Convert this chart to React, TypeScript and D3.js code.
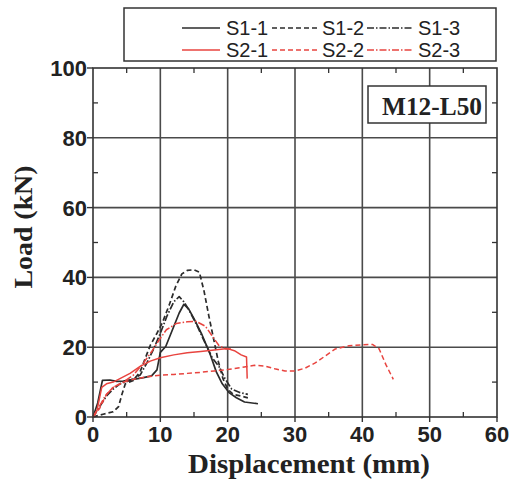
import React from "react";
import * as d3 from "d3";

type P = [number, number];

const xMajor = [0, 10, 20, 30, 40, 50, 60];
const xMinor = [5, 15, 25, 35, 45, 55];
const yMajor = [0, 20, 40, 60, 80, 100];
const yMinor = [10, 30, 50, 70, 90];

const s11: P[] = [[0,0],[0.7,4],[1.4,10.5],[2.5,10.6],[3.5,10.2],[4.5,10.3],[6,10.8],[7.5,11.3],[8.7,11.8],[9.5,13.5],[10,18.5],[10.8,20.2],[11.8,25],[12.8,29.8],[13.5,32.3],[14.2,31],[15,28.2],[16.2,23.5],[17.4,18],[18.3,13],[19.2,9.5],[20.2,7],[21.3,5.5],[22.5,4.3],[24.5,3.8]];
const s12: P[] = [[0,0],[1.5,0.8],[3,1.5],[3.8,3],[4.3,6.5],[4.8,9.5],[6,10.5],[7,13],[7.8,17],[8.5,20.5],[9.5,24],[10.3,27],[11.3,32],[12.3,37.5],[13.2,41],[14,42],[15,42.2],[15.8,41.5],[16.5,36],[17.2,29],[17.9,22.5],[18.6,16],[19.3,11],[20,8],[20.8,6.5],[22,6],[23,5.5]];
const s13: P[] = [[0,0],[1,3],[2,6],[3,8],[4,9.5],[5.5,10.5],[7,12],[8,15.5],[9,19.5],[10,24],[11,29],[12,33],[12.8,34.5],[13.5,33],[14.3,30.5],[15.5,26],[16.7,21],[17.7,17],[18.7,14.5],[19.6,11],[20.6,8],[21.8,7],[23,6.5]];
const s21: P[] = [[0,0],[0.6,2],[1.3,8.5],[2,9.5],[3,10],[4,11],[5.5,12.5],[7,14.5],[8.5,16],[10,17],[12,17.8],[14,18.4],[16,18.8],[18,19.2],[20,19.6],[21,19],[22,17.8],[22.8,17.2],[22.9,11]];
const s22: P[] = [[0,0],[1,2.5],[2,6.5],[3,8.5],[4.5,10],[6,10.8],[8,11.5],[10,12],[12,12.2],[14,12.5],[16,12.8],[18,13.2],[20,13.6],[22,14.2],[24,14.8],[25.5,14.6],[27,13.8],[28.5,13.2],[30,13.2],[31.5,14],[33,15.5],[34.5,17.5],[36,19.5],[38,20.4],[40,20.7],[41.5,20.8],[42.5,19.5],[43.5,15],[44.6,10.8]];
const s23: P[] = [[0,0],[0.8,2.5],[1.8,6],[3,8.5],[4.5,10],[6,12],[7.5,15.5],[8.8,19],[9.8,22],[10.9,25],[12.4,26.8],[14,27.3],[15.3,27.4],[16.7,26],[17.6,23.5],[18.7,20.5],[19.7,19.5],[20.5,19.5]];

const seriesNames = ["S1-1", "S1-2", "S1-3", "S2-1", "S2-2", "S2-3"];
const seriesData = [s11, s12, s13, s21, s22, s23];

const BLACK = "#2b2b2b";
const RED = "#e8443f";
const colors = [BLACK, BLACK, BLACK, RED, RED, RED];
const dashes = ["", "5,3", "7,2,1.5,2", "", "5,3", "7,2,1.5,2"];

export default function App() {
  const L = 93, R = 497, T = 68, B = 417;
  const x = d3.scaleLinear().domain([0, 60]).range([L, R]);
  const y = d3.scaleLinear().domain([0, 100]).range([B, T]);
  const line = d3.line<P>().x(d => x(d[0])).y(d => y(d[1]));
  const tickFont = "'Liberation Sans', Arial, sans-serif";
  const serif = "'Liberation Serif', 'Times New Roman', serif";

  const legX = [182, 272, 367];
  const legTx = [226, 322, 418];
  const legW = [38, 45, 46];
  const legLineY = [28, 50];
  const legTextY = [35, 57];

  return (
    <svg width={518} height={499} style={{ position: "absolute", left: 0, top: 0, background: "#fff" }}>
      <rect x={0} y={0} width={518} height={499} fill="#fff" />
      {xMajor.filter(v => v > 0 && v < 60).map(v => (
        <line key={"gx" + v} x1={x(v)} x2={x(v)} y1={T} y2={B} stroke="#4a4a4a" strokeWidth={1.6} />
      ))}
      {yMajor.filter(v => v > 0 && v < 100).map(v => (
        <line key={"gy" + v} x1={L} x2={R} y1={y(v)} y2={y(v)} stroke="#4a4a4a" strokeWidth={1.6} />
      ))}
      {xMinor.map(v => (
        <g key={"mx" + v}>
          <line x1={x(v)} x2={x(v)} y1={B} y2={B - 5} stroke="#333" strokeWidth={1.3} />
          <line x1={x(v)} x2={x(v)} y1={T} y2={T + 5} stroke="#333" strokeWidth={1.3} />
        </g>
      ))}
      {yMinor.map(v => (
        <g key={"my" + v}>
          <line x1={L} x2={L + 5} y1={y(v)} y2={y(v)} stroke="#333" strokeWidth={1.3} />
          <line x1={R} x2={R - 5} y1={y(v)} y2={y(v)} stroke="#333" strokeWidth={1.3} />
        </g>
      ))}
      {xMajor.map(v => (
        <line key={"tx" + v} x1={x(v)} x2={x(v)} y1={B} y2={B + 5} stroke="#333" strokeWidth={1.4} />
      ))}
      {yMajor.map(v => (
        <line key={"ty" + v} x1={L - 6} x2={L} y1={y(v)} y2={y(v)} stroke="#333" strokeWidth={1.4} />
      ))}
      {seriesData.map((d, i) => (
        <path key={seriesNames[i]} d={line(d) || ""} fill="none" stroke={colors[i]}
          strokeWidth={i < 3 ? 1.7 : 1.5} strokeDasharray={dashes[i] || undefined} strokeLinejoin="round" />
      ))}
      <rect x={L} y={T} width={R - L} height={B - T} fill="none" stroke="#333" strokeWidth={1.6} />
      {xMajor.map(v => (
        <text key={"lx" + v} x={x(v)} y={442} textAnchor="middle" fontFamily={tickFont}
          fontWeight="bold" fontSize={22} fill="#222">{v}</text>
      ))}
      {yMajor.map(v => (
        <text key={"ly" + v} x={87} y={y(v) + 8} textAnchor="end" fontFamily={tickFont}
          fontWeight="bold" fontSize={22} fill="#222">{v}</text>
      ))}
      <text x={309} y={473} textAnchor="middle" fontFamily={serif} fontWeight="bold" fontSize={27}
        fill="#222" textLength={242} lengthAdjust="spacingAndGlyphs">Displacement (mm)</text>
      <text transform="translate(32,227) rotate(-90)" textAnchor="middle" fontFamily={serif}
        fontWeight="bold" fontSize={26} fill="#222" textLength={123} lengthAdjust="spacingAndGlyphs">Load (kN)</text>
      <rect x={368} y={86} width={118} height={37} fill="#fff" stroke="#333" strokeWidth={1.5} />
      <text x={432} y={115} textAnchor="middle" fontFamily={serif} fontWeight="bold" fontSize={25}
        fill="#222" textLength={100} lengthAdjust="spacingAndGlyphs">M12-L50</text>
      <rect x={124} y={8} width={372} height={53} fill="#fff" stroke="#333" strokeWidth={1.5} />
      {seriesNames.map((n, i) => {
        const row = Math.floor(i / 3);
        const col = i % 3;
        return (
          <g key={"leg" + n}>
            <line x1={legX[col]} x2={legX[col] + legW[col]} y1={legLineY[row]} y2={legLineY[row]}
              stroke={colors[i]} strokeWidth={1.5} strokeDasharray={dashes[i] || undefined} />
            <text x={legTx[col]} y={legTextY[row]} fontFamily={tickFont} fontSize={20} fill="#222">{n}</text>
          </g>
        );
      })}
    </svg>
  );
}
